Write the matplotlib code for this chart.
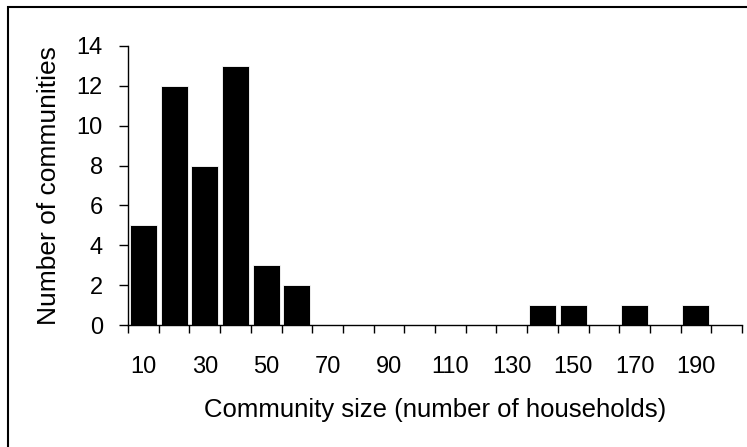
import matplotlib
matplotlib.use('Agg')
import matplotlib.pyplot as plt
from matplotlib.patches import Rectangle

plt.rcParams['font.family'] = ['Liberation Sans', 'DejaVu Sans']

sizes = [10, 20, 30, 40, 50, 60, 70, 80, 90, 100,
         110, 120, 130, 140, 150, 160, 170, 180, 190, 200]
counts = [5, 12, 8, 13, 3, 2, 0, 0, 0, 0,
          0, 0, 0, 1, 1, 0, 1, 0, 1, 0]
xlabel = 'Community size (number of households)'
ylabel = 'Number of communities'

fig = plt.figure(figsize=(7.47, 4.47), dpi=100)
ax = fig.add_axes([128/747, 1-325/447, 614/747, 279/447])

pos = list(range(len(sizes)))
ax.bar(pos, counts, width=0.88, color='black', edgecolor='white', linewidth=0.6)

ax.set_xlim(-0.5, len(sizes) - 0.5)
ax.set_ylim(0, 14)
ax.set_yticks(range(0, 15, 2))

# ticks between categories, labels on every other category
ax.set_xticks([p - 0.5 for p in pos] + [len(sizes) - 0.5])
ax.set_xticklabels([])
ax.set_xticks(pos[::2], minor=True)
ax.set_xticklabels([str(s) for s in sizes[::2]], minor=True)
ax.tick_params(axis='x', which='minor', length=0, pad=22, labelsize=17)
ax.tick_params(axis='x', which='major', direction='out', length=6, width=1)
ax.tick_params(axis='y', direction='out', length=6.5, width=1, labelsize=17, pad=11.5)

for s in ['top', 'right']:
    ax.spines[s].set_visible(False)
for s in ['left', 'bottom']:
    ax.spines[s].set_linewidth(1)

ax.set_xlabel(xlabel, fontsize=18.5, labelpad=15)
ax.set_ylabel(ylabel, fontsize=19, labelpad=11)

# outer frame
fig.patches.append(Rectangle((8/747, -0.05), 1.0, 1 - 7/447 + 0.05,
                             transform=fig.transFigure, fill=False,
                             edgecolor='black', linewidth=1.5))

fig.savefig('out.png', dpi=100)
